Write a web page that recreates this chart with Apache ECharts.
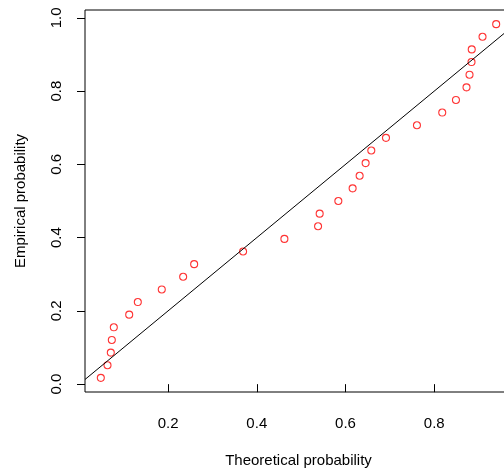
<!DOCTYPE html>
<html>
<head>
<meta charset="utf-8">
<script src="https://cdn.jsdelivr.net/npm/echarts@6/dist/echarts.min.js"></script>
<style>
html,body{margin:0;padding:0;background:#fff;}
#chart{width:504px;height:475px;}
</style>
</head>
<body>
<div id="chart"></div>
<script>
// Theoretical probabilities (x)
var theoretical = [0.0484, 0.0635, 0.0709, 0.0732, 0.0777, 0.1124, 0.1318, 0.1858, 0.2340, 0.2588,
  0.3691, 0.4622, 0.5381, 0.5417, 0.5838, 0.6160, 0.6318, 0.6453, 0.6581, 0.6912,
  0.7610, 0.8180, 0.8489, 0.8727, 0.8795, 0.8840, 0.8845, 0.9088, 0.9396];
// Empirical probabilities (y)
var empirical = [0.0172, 0.0517, 0.0862, 0.1207, 0.1552, 0.1897, 0.2241, 0.2586, 0.2931, 0.3276,
  0.3621, 0.3966, 0.4310, 0.4655, 0.5000, 0.5345, 0.5690, 0.6034, 0.6379, 0.6724,
  0.7069, 0.7414, 0.7759, 0.8103, 0.8448, 0.8793, 0.9138, 0.9483, 0.9828];
var xTicks = [0.2, 0.4, 0.6, 0.8];
var yTicks = [0.0, 0.2, 0.4, 0.6, 0.8, 1.0];

function padRange(arr) {
  var mn = Math.min.apply(null, arr), mx = Math.max.apply(null, arr);
  var r = mx - mn;
  return [mn - 0.04 * r, mx + 0.04 * r];
}
var xr = padRange(theoretical), yr = padRange(empirical);
var points = theoretical.map(function (x, i) { return [x, empirical[i]]; });
var refLine = [[xr[0], xr[0]], [xr[1], xr[1]]];

var font = '"Liberation Sans", Arial, sans-serif';
var chart = echarts.init(document.getElementById('chart'), null, {renderer: 'canvas'});
chart.setOption({
  animation: false,
  backgroundColor: '#fff',
  grid: {left: 85, top: 10, width: 427, bottom: 83, outerBoundsMode: 'none', containLabel: false,
    show: true, borderColor: '#000', borderWidth: 1, backgroundColor: 'transparent'},
  xAxis: {
    type: 'value', min: xr[0], max: xr[1],
    name: 'Theoretical probability', nameLocation: 'middle', nameGap: 61,
    nameTextStyle: {fontFamily: font, fontSize: 15, color: '#000'},
    axisLine: {show: false},
    splitLine: {show: false},
    axisTick: {show: true, inside: false, length: 8, customValues: xTicks, lineStyle: {color: '#000'}},
    axisLabel: {customValues: xTicks, margin: 24, fontFamily: font, fontSize: 15, color: '#000',
      formatter: function (v) { return v.toFixed(1); }}
  },
  yAxis: {
    type: 'value', min: yr[0], max: yr[1],
    name: 'Empirical probability', nameLocation: 'middle', nameGap: 57,
    nameTextStyle: {fontFamily: font, fontSize: 15, color: '#000'},
    axisLine: {show: false},
    splitLine: {show: false},
    axisTick: {show: true, inside: false, length: 8, customValues: yTicks, lineStyle: {color: '#000'}},
    axisLabel: {customValues: yTicks, margin: 21, rotate: 90, fontFamily: font, fontSize: 15, color: '#000',
      formatter: function (v) { return v.toFixed(1); }}
  },
  series: [
    {
      type: 'line', data: refLine, symbol: 'none', silent: true, clip: true,
      lineStyle: {color: '#000', width: 1}
    },
    {
      type: 'scatter', data: points, symbol: 'circle', symbolSize: 7,
      itemStyle: {color: 'rgba(0,0,0,0)', borderColor: '#ff0000', borderWidth: 1.1}
    }
  ]
});
</script>
</body>
</html>
